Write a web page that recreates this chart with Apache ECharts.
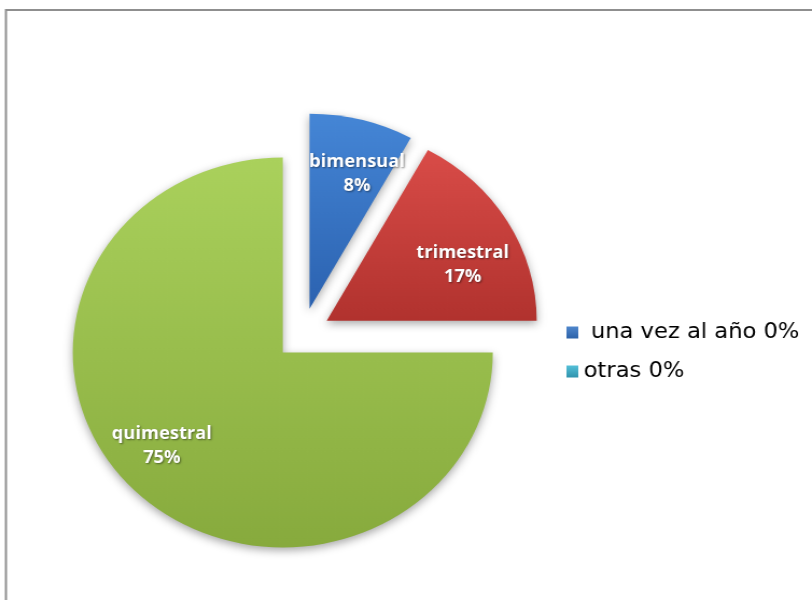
<!DOCTYPE html>
<html>
<head>
<meta charset="utf-8">
<script src="https://cdn.jsdelivr.net/npm/echarts@6/dist/echarts.min.js"></script>
<style>
  html, body { margin: 0; padding: 0; background: #ffffff; overflow: hidden; }
  /* the whole drawing is stretched slightly wider than tall */
  #chart {
    width: 754px;
    height: 600px;
    transform: scaleX(1.0769);
    transform-origin: 0 0;
  }
</style>
</head>
<body>
<div id="chart"></div>
<script>
// Frecuencia: categorías y porcentajes
const categories = ['bimensual', 'trimestral', 'quimestral', 'una vez al año', 'otras'];
const percentages = [8, 17, 75, 0, 0];
const legendNames = ['una vez al año', 'otras'];

// Colores por categoría: [claro, oscuro]
const palette = [
  ['#4586d6', '#2b62b0'],
  ['#d94c48', '#b1322e'],
  ['#aad15c', '#87aa3d'],
  ['#4f86cc', '#2d62a8'],
  ['#54c0d8', '#2f93ad']
];

// small nudges of the slice labels away from the default inside spot
const labelNudge = {
  'bimensual': [7, 10],
  'trimestral': [-2, 20],
  'quimestral': [-7, -12]
};

function grad(pair) {
  return new echarts.graphic.LinearGradient(0, 0, 0, 1, [
    { offset: 0, color: pair[0] },
    { offset: 1, color: pair[1] }
  ]);
}

const CENTER = [281, 334];
const R = 195;
const EXPLODE = 26;

const sliceData = categories.map((name, i) => ({
  name: name,
  value: percentages[i],
  selected: true,
  itemStyle: { color: grad(palette[i]) },
  label: { show: false }
}));

const labelData = categories.map((name, i) => ({
  name: name,
  value: percentages[i],
  selected: true,
  label: { show: percentages[i] > 0 }
}));

const chart = echarts.init(document.getElementById('chart'), null, { renderer: 'canvas' });

chart.setOption({
  animation: false,
  backgroundColor: '#ffffff',
  graphic: [{
    type: 'rect',
    shape: { x: 5.5, y: 10, width: 900, height: 700 },
    style: { fill: 'none', stroke: '#8f8f8f', lineWidth: 2 },
    silent: true
  }],
  legend: {
    data: legendNames,
    orient: 'vertical',
    left: 521,
    top: 317,
    icon: 'rect',
    itemWidth: 11,
    itemHeight: 12,
    itemGap: 18,
    selectedMode: false,
    textStyle: { fontFamily: 'DejaVu Sans', fontSize: 21, color: '#000000' },
    formatter: function (name) {
      const v = percentages[categories.indexOf(name)];
      return (name === 'una vez al año' ? ' ' : '') + name + ' ' + v + '%';
    }
  },
  series: [
    {
      name: 'Frecuencia',
      type: 'pie',
      center: CENTER,
      radius: R,
      startAngle: 90,
      clockwise: true,
      selectedMode: 'multiple',
      selectedOffset: EXPLODE,
      avoidLabelOverlap: false,
      silent: true,
      itemStyle: {
        shadowBlur: 8,
        shadowOffsetY: 3,
        shadowColor: 'rgba(0,0,0,0.35)'
      },
      label: { show: false },
      labelLine: { show: false },
      data: sliceData
    },
    {
      name: 'Etiquetas',
      type: 'pie',
      center: CENTER,
      radius: [97, R],
      startAngle: 90,
      clockwise: true,
      selectedMode: 'multiple',
      selectedOffset: EXPLODE,
      avoidLabelOverlap: false,
      silent: true,
      legendHoverLink: false,
      itemStyle: { color: 'rgba(0,0,0,0)' },
      label: {
        position: 'inside',
        formatter: '{b}\n{c}%',
        fontFamily: 'Open Sans',
        fontWeight: 'bold',
        fontSize: 17,
        lineHeight: 24,
        color: '#ffffff',
        textShadowColor: 'rgba(0,0,0,0.45)',
        textShadowBlur: 2,
        textShadowOffsetX: 1,
        textShadowOffsetY: 1
      },
      labelLayout: function (params) {
        const n = labelNudge[categories[params.dataIndex]] || [0, 0];
        return { dx: n[0], dy: n[1] };
      },
      labelLine: { show: false },
      data: labelData
    }
  ]
});
</script>
</body>
</html>
